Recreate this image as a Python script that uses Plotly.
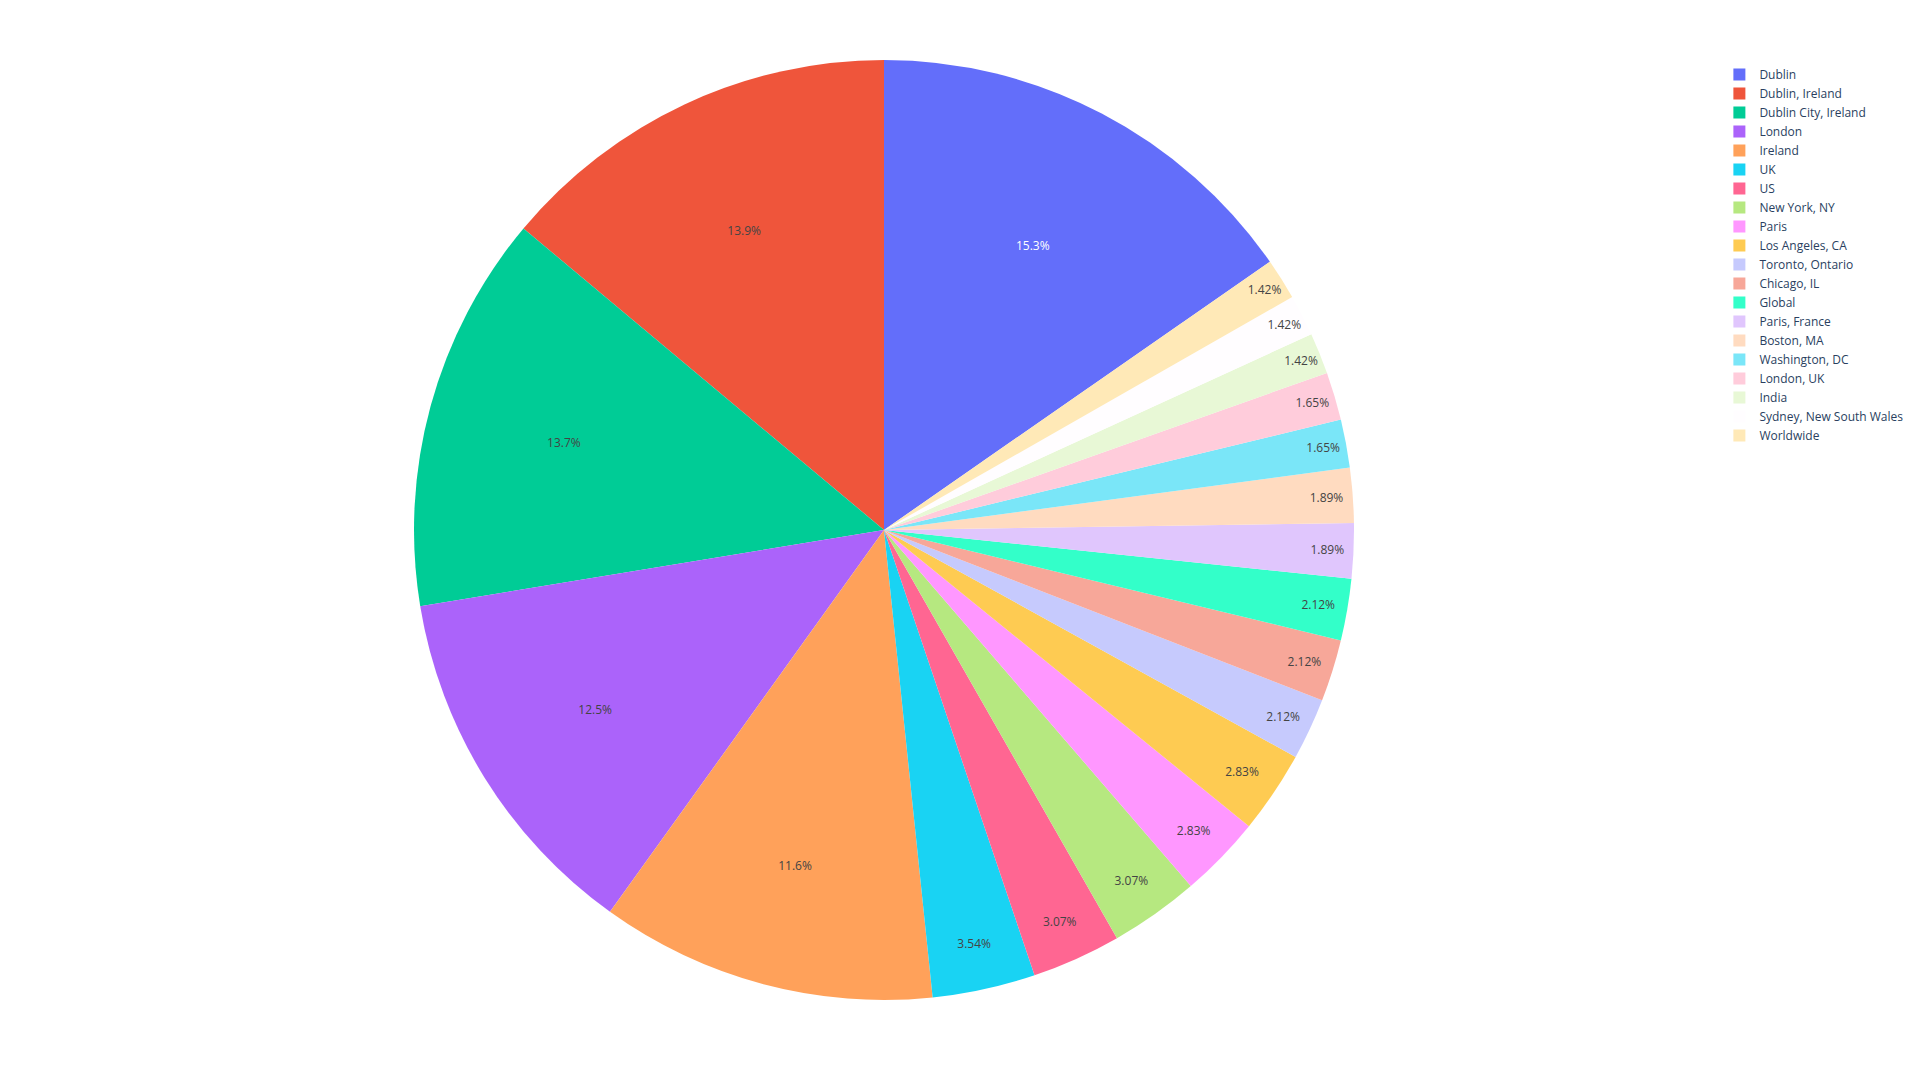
import plotly.graph_objects as go

labels = ["Dublin", "Dublin, Ireland", "Dublin City, Ireland", "London", "Ireland", "UK", "US",
          "New York, NY", "Paris", "Los Angeles, CA", "Toronto, Ontario", "Chicago, IL", "Global",
          "Paris, France", "Boston, MA", "Washington, DC", "London, UK", "India",
          "Sydney, New South Wales", "Worldwide"]
values = [65, 59, 58, 53, 49, 15, 13, 13, 12, 12, 9, 9, 9, 8, 8, 7, 7, 6, 6, 6]

fig = go.Figure(go.Pie(labels=labels, values=values, insidetextorientation="horizontal"))
fig.update_layout(
    template="plotly",
    margin=dict(t=52, b=72, l=81, r=233, autoexpand=False),
    legend=dict(x=1.0254, y=1),
)
fig.write_html("out.html")
